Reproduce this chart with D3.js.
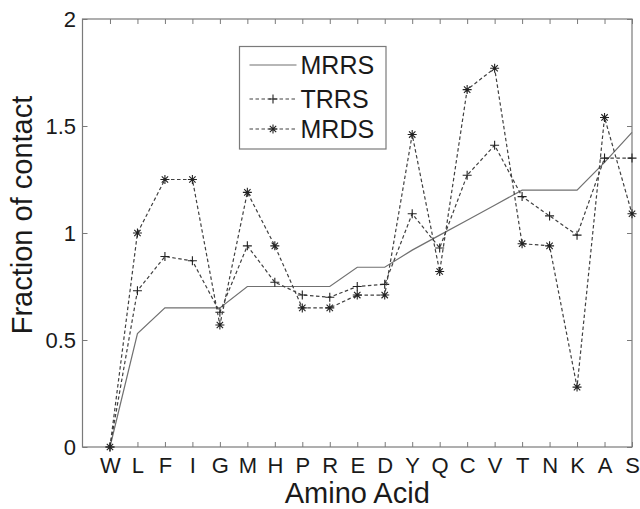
<!DOCTYPE html>
<html>
<head>
<meta charset="utf-8">
<script src="https://cdn.jsdelivr.net/npm/d3@7"></script>
<style>
  body { margin: 0; background: #fff; }
  svg { font-family: "Liberation Sans", Arial, sans-serif; }
</style>
</head>
<body>
<svg width="640" height="509"></svg>
<script>
var aminoAcids = ["W", "L", "F", "I", "G", "M", "H", "P", "R", "E", "D", "Y", "Q", "C", "V", "T", "N", "K", "A", "S"];
var mrrs = [0, 0.53, 0.65, 0.65, 0.65, 0.75, 0.75, 0.75, 0.75, 0.84, 0.84, 0.92, 0.99, 1.06, 1.13, 1.2, 1.2, 1.2, 1.33, 1.47];
var trrs = [0, 0.73, 0.89, 0.87, 0.63, 0.94, 0.77, 0.71, 0.70, 0.75, 0.76, 1.09, 0.93, 1.27, 1.41, 1.17, 1.08, 0.99, 1.35, 1.35];
var mrds = [0, 1.0, 1.25, 1.25, 0.57, 1.19, 0.94, 0.65, 0.65, 0.71, 0.71, 1.46, 0.82, 1.67, 1.77, 0.95, 0.94, 0.28, 1.54, 1.09];
var yTicks = [0, 0.5, 1, 1.5, 2];
var seriesNames = ["MRRS", "TRRS", "MRDS"];

var svg = d3.select("svg");
var plot = {left: 82.5, right: 632, top: 19, bottom: 447};

var x = d3.scaleLinear().domain([0, 20]).range([plot.left, plot.right]);
var y = d3.scaleLinear().domain([0, 2]).range([plot.bottom, plot.top]);
var idx = d3.range(1, aminoAcids.length + 1);

var axisColor = "#7a7a7a";

// box
svg.append("rect")
    .attr("x", plot.left).attr("y", plot.top)
    .attr("width", plot.right - plot.left).attr("height", plot.bottom - plot.top)
    .attr("fill", "none").attr("stroke", axisColor).attr("stroke-width", 1.2);

svg.append("g").attr("transform", "translate(0," + plot.bottom + ")")
    .call(d3.axisBottom(x).tickValues(idx).tickFormat(function(d) { return aminoAcids[d - 1]; })
        .tickSizeInner(-5).tickSizeOuter(0).tickPadding(10));
svg.append("g").attr("transform", "translate(0," + plot.top + ")")
    .call(d3.axisTop(x).tickValues(idx).tickFormat("").tickSizeInner(-5).tickSizeOuter(0));
svg.append("g").attr("transform", "translate(" + plot.left + ",0)")
    .call(d3.axisLeft(y).tickValues(yTicks).tickFormat(d3.format("")).tickSizeInner(-5).tickSizeOuter(0).tickPadding(6.5));
svg.append("g").attr("transform", "translate(" + plot.right + ",0)")
    .call(d3.axisRight(y).tickValues(yTicks).tickFormat("").tickSizeInner(-5).tickSizeOuter(0));

svg.selectAll(".domain").remove();
svg.selectAll(".tick line").attr("stroke", axisColor);
svg.selectAll(".tick text").attr("fill", "#1a1a1a").style("font-size", "22px");

// axis labels
svg.append("text")
    .attr("x", (plot.left + plot.right) / 2).attr("y", 503)
    .attr("text-anchor", "middle").attr("fill", "#1a1a1a")
    .style("font-size", "29px").text("Amino Acid");
svg.append("text")
    .attr("transform", "translate(32,215) rotate(-90)")
    .attr("text-anchor", "middle").attr("fill", "#1a1a1a")
    .style("font-size", "29px").text("Fraction of contact");

// series
var line = d3.line().x(function(d, i) { return x(i + 1); }).y(function(d) { return y(d); });
var starPath = "M-4.5,0H4.5M0,-4.5V4.5M-3.2,-3.2L3.2,3.2M-3.2,3.2L3.2,-3.2";
var plusPath = "M-4.5,0H4.5M0,-4.5V4.5";

var series = [
    {name: seriesNames[0], values: mrrs, dash: null, marker: null, color: "#707070"},
    {name: seriesNames[1], values: trrs, dash: "3.5,2.5", marker: plusPath, color: "#404040"},
    {name: seriesNames[2], values: mrds, dash: "3.5,2.5", marker: starPath, color: "#404040"}
];

series.forEach(function(s) {
    svg.append("path")
        .datum(s.values)
        .attr("d", line)
        .attr("fill", "none")
        .attr("stroke", s.color)
        .attr("stroke-width", 1.2)
        .attr("stroke-dasharray", s.dash);
    if (s.marker) {
        svg.append("g").selectAll("path")
            .data(s.values)
            .enter().append("path")
            .attr("transform", function(d, i) { return "translate(" + x(i + 1) + "," + y(d) + ")"; })
            .attr("d", s.marker)
            .attr("fill", "none")
            .attr("stroke", "#222")
            .attr("stroke-width", 1.1);
    }
});

// legend
var lg = svg.append("g");
lg.append("rect")
    .attr("x", 239.5).attr("y", 46.5).attr("width", 146.5).attr("height", 102.5)
    .attr("fill", "#fff").attr("stroke", axisColor).attr("stroke-width", 1.2);
var rowY = [65, 99, 129];
series.forEach(function(s, i) {
    lg.append("line")
        .attr("x1", 249.5).attr("x2", 296.5)
        .attr("y1", rowY[i]).attr("y2", rowY[i])
        .attr("stroke", s.color).attr("stroke-width", 1.2)
        .attr("stroke-dasharray", s.dash);
    if (s.marker) {
        lg.append("path")
            .attr("transform", "translate(273," + rowY[i] + ")")
            .attr("d", s.marker)
            .attr("fill", "none").attr("stroke", "#222").attr("stroke-width", 1.1);
    }
    lg.append("text")
        .attr("x", 300.5).attr("y", rowY[i]).attr("dy", "0.36em")
        .attr("fill", "#1a1a1a").style("font-size", "25px")
        .text(s.name);
});
</script>
</body>
</html>
